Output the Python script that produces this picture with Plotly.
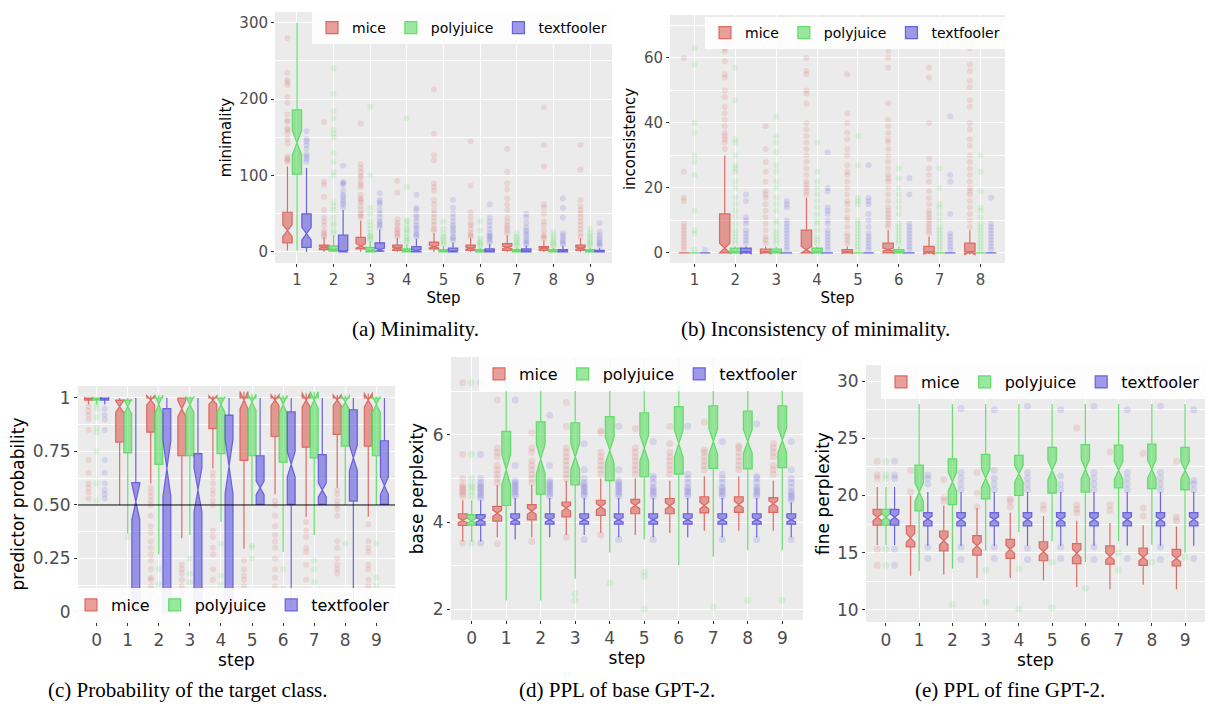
import plotly.graph_objects as go

FONT = "DejaVu Sans"
SERIF = "Liberation Serif"
NAMES = ["mice", "polyjuice", "textfooler"]
COLORS = [(219, 95, 87), (87, 219, 95), (95, 87, 219)]

# ---------------- (a) Minimality ----------------  (lo, q1, median, q3, hi)
A_STEPS = [1, 2, 3, 4, 5, 6, 7, 8, 9]
A_MICE = [(2, 12, 28, 52, 112), (0, 3, 6, 9, 19), (0, 4, 8, 19, 41), (0, 2, 5, 9, 18), (0, 4, 7, 13, 25),
          (0, 2, 5, 9, 18), (0, 2, 6, 11, 22), (0, 2, 5, 7, 15), (0, 2, 5, 9, 18)]
A_POLY = [(2, 102, 143, 186, 300), (0, 1, 3, 8, 22), (0, 0, 2, 6, 14), (0, 0, 1, 4, 10), (0, 0, 1, 3, 8),
          (0, 0, 1, 3, 6), (0, 0, 1, 3, 6), (0, 0, 1, 3, 6), (0, 0, 1, 3, 6)]
A_TEXT = [(0, 6, 24, 50, 110), (0, 0, 1, 22, 55), (0, 1, 3, 12, 29), (0, 0, 2, 7, 17), (0, 0, 1, 5, 12),
          (0, 0, 1, 4, 10), (0, 0, 1, 4, 8), (0, 0, 1, 3, 8), (0, 0, 1, 2, 5)]
A_MICE_OUT = [
    [118, 120, 122, 125, 142, 148, 155, 160, 162, 170, 172, 180, 195, 203, 218, 222, 225, 235, 280],
    [20, 22, 25, 28, 35, 40, 45, 55, 72, 88, 92, 170],
    [45, 48, 50, 55, 60, 65, 68, 70, 75, 85, 88, 92, 98, 100, 105, 110, 115, 168],
    [20, 22, 25, 28, 30, 35, 38, 43, 78, 93],
    [28, 30, 35, 40, 45, 50, 55, 62, 68, 80, 85, 90, 120, 127, 155, 213],
    [20, 22, 25, 30, 35, 38, 45, 52, 87, 145],
    [25, 28, 32, 35, 40, 45, 55, 62, 70, 82, 90, 105, 135],
    [18, 20, 22, 28, 35, 40, 50, 58, 62, 112, 140, 189],
    [20, 25, 30, 35, 40, 45, 50, 55, 60, 68, 108, 140]]
A_POLY_OUT = [
    [],
    [25, 28, 35, 38, 45, 55, 60, 65, 100, 105, 118, 130, 150, 155, 160, 175, 184, 207, 240, 279],
    [16, 18, 20, 22, 25, 30, 35, 40, 50, 58, 100, 190],
    [12, 15, 18, 20, 25, 28, 30, 35, 40, 42, 85, 175],
    [10, 12, 15, 18, 20, 25, 30, 40],
    [8, 10, 12, 15, 18, 28, 40],
    [8, 10, 12, 15, 18, 20, 25],
    [8, 10, 12, 15, 18, 22, 26],
    [8, 10, 12, 15, 18, 22, 25, 30]]
A_TEXT_OUT = [
    [118, 122, 125, 128, 135, 140, 145, 148, 158],
    [58, 62, 65, 68, 72, 75, 80, 88, 90, 92, 113],
    [32, 35, 38, 40, 45, 50, 55, 62, 65, 68, 77],
    [20, 22, 25, 28, 32, 35, 40, 45, 48, 55, 58, 75],
    [15, 18, 20, 25, 28, 32, 35, 40, 45, 50, 58, 68],
    [12, 15, 18, 20, 22, 25, 30, 35, 40, 45, 62],
    [10, 12, 15, 18, 22, 25, 28, 32, 38, 45, 50],
    [10, 12, 15, 18, 22, 25, 45, 58, 70],
    [8, 10, 12, 15, 18, 22, 26, 38]]
A_YTICKS = [0, 100, 200, 300]

# ---------------- (b) Inconsistency of minimality ----------------
B_STEPS = [1, 2, 3, 4, 5, 6, 7, 8]
B_MICE = [(0, 0, 0, 0, 0), (0, 0, 1.5, 12, 30), (0, 0, 0, 1.2, 2), (0, 0, 1, 7, 17), (0, 0, 0, 1, 2),
          (0, 0, 1, 3, 7), (0, 0, 0, 2, 5), (0, 0, 0, 3, 7)]
B_POLY = [(0, 0, 0, 0, 0), (0, 0, 0, 1.5, 2), (0, 0, 0, 1.2, 2), (0, 0, 0, 1.5, 2), (0, 0, 0, 0, 0),
          (0, 0, 0, 1, 2), (0, 0, 0, 0, 0), (0, 0, 0, 0, 0)]
B_TEXT = [(0, 0, 0, 0, 0), (0, 0, 0, 1.5, 2), (0, 0, 0, 0, 0), (0, 0, 0, 0, 0), (0, 0, 0, 0, 0),
          (0, 0, 0, 0, 0), (0, 0, 0, 0, 0), (0, 0, 0, 0, 0)]
B_MICE_OUT = [
    [1, 2, 3, 4, 5, 6, 7, 8, 9, 16, 17, 25, 60],
    [32, 34, 35, 36, 37, 39, 41, 43, 45, 48, 50, 54, 55, 59, 62, 63],
    [3, 4, 5, 7, 9, 11, 13, 15, 17, 18, 19, 22, 25, 28, 32, 39, 64],
    [18, 19, 20, 21, 22, 24, 26, 28, 30, 32, 34, 36, 38, 40, 46, 49, 50, 55, 56, 60, 65],
    [3, 4, 5, 6, 8, 10, 11, 13, 15, 16, 18, 20, 22, 24, 25, 27, 30, 32, 35, 37, 40, 43, 55],
    [8, 9, 10, 11, 12, 13, 14, 16, 18, 20, 22, 23, 24, 26, 28, 30, 32, 34, 35, 37, 39, 41, 46, 57, 60, 62],
    [6, 7, 8, 9, 10, 11, 12, 13, 15, 17, 19, 22, 24, 26, 29, 40, 54, 57],
    [8, 10, 12, 14, 16, 18, 19, 20, 22, 24, 26, 28, 30, 33, 35, 38, 40, 45, 47, 51, 53, 56, 58, 63]]
B_POLY_OUT = [
    [1, 6, 7, 13, 24, 28, 30, 37, 40, 58, 63],
    [3, 4, 5, 6, 7, 9, 11, 13, 15, 17, 20, 22, 25, 26, 27, 30, 34, 35, 47, 57],
    [3, 4, 5, 6, 7, 9, 10, 13, 15, 17, 20, 22, 25, 27, 31, 34, 36, 42],
    [3, 4, 5, 7, 9, 10, 12, 14, 16, 18, 20, 22, 25, 34],
    [1, 2, 3, 4, 5, 6, 7, 8, 9, 10, 15, 16, 17, 27, 36],
    [3, 4, 5, 6, 7, 8, 9, 12, 14, 16, 18, 20, 23, 26],
    [1, 2, 3, 4, 5, 6, 7, 8, 10, 12, 14, 15, 20, 26],
    [1, 2, 3, 4, 5, 6, 7, 8, 9, 11, 13, 14, 19, 25, 30]]
B_TEXT_OUT = [
    [1],
    [3, 4, 5, 6, 7, 9, 10, 11, 16, 18],
    [1, 2, 3, 4, 5, 6, 7, 8, 9, 10, 14, 15, 16],
    [1, 2, 3, 4, 5, 6, 7, 9, 10, 12, 13, 14, 19, 20, 31],
    [1, 2, 3, 4, 5, 6, 8, 10, 12, 15, 16, 17, 27],
    [1, 2, 3, 4, 5, 6, 7, 8, 9, 18, 23],
    [1, 2, 3, 4, 5, 6, 12, 22, 24, 42],
    [1, 2, 3, 4, 5, 6, 7, 8, 9, 17]]
B_YTICKS = [0, 20, 40, 60]

# ---------------- (c) Probability of the target class ----------------
C_STEPS = [0, 1, 2, 3, 4, 5, 6, 7, 8, 9]
C_MICE = [(0.97, 0.99, 1.0, 1.0, 1.0), (0.5, 0.794, 0.96, 0.99, 1.0), (0.6, 0.84, 0.99, 1.0, 1.0),
          (0.345, 0.73, 0.95, 1.0, 1.0), (0.67, 0.857, 0.99, 1.0, 1.0), (0.295, 0.708, 0.99, 1.0, 1.0),
          (0.55, 0.82, 0.99, 1.0, 1.0), (0.445, 0.77, 0.99, 1.0, 1.0), (0.58, 0.83, 0.99, 1.0, 1.0),
          (0.445, 0.775, 0.99, 1.0, 1.0)]
C_POLY = [(0.97, 0.99, 1.0, 1.0, 1.0), (0.366, 0.743, 0.96, 0.99, 1.0), (0.27, 0.69, 0.97, 1.0, 1.0),
          (0.36, 0.73, 0.97, 1.0, 1.0), (0.42, 0.74, 0.97, 1.0, 1.0), (0.5, 0.73, 0.98, 1.0, 1.0),
          (0.28, 0.70, 0.97, 1.0, 1.0), (0.36, 0.72, 0.99, 1.0, 1.0), (0.5, 0.775, 0.98, 1.0, 1.0),
          (0.5, 0.73, 0.97, 1.0, 1.0)]
C_TEXT = [(0.97, 0.99, 1.0, 1.0, 1.0), (0.0, 0.0, 0.515, 0.604, 1.0), (0.0, 0.0, 0.67, 0.95, 1.0),
          (0.0, 0.0, 0.57, 0.74, 1.0), (0.0, 0.0, 0.68, 0.92, 1.0), (0.5, 0.503, 0.58, 0.73, 1.0),
          (0.0, 0.503, 0.69, 0.935, 1.0), (0.5, 0.503, 0.57, 0.735, 1.0), (0.0, 0.518, 0.72, 0.945, 1.0),
          (0.5, 0.503, 0.59, 0.80, 1.0)]
C_MICE_OUT = [
    [0.53, 0.56, 0.58, 0.6, 0.65, 0.71, 0.85, 0.9, 0.92, 0.94, 0.96],
    [],
    [0.01, 0.03, 0.05, 0.08, 0.1, 0.12, 0.15, 0.16, 0.2, 0.24, 0.27, 0.3, 0.33, 0.37, 0.4, 0.45, 0.5, 0.52, 0.54, 0.56, 0.58],
    [0.03, 0.05, 0.08, 0.1, 0.12, 0.15, 0.18, 0.2, 0.22],
    [0.05, 0.1, 0.15, 0.2, 0.27, 0.3, 0.35, 0.38, 0.5, 0.52, 0.55, 0.57, 0.6, 0.63, 0.65],
    [0.03, 0.05, 0.08, 0.12, 0.15, 0.17, 0.2, 0.24],
    [0.02, 0.05, 0.1, 0.12, 0.16, 0.2, 0.25, 0.3, 0.33, 0.36, 0.4, 0.45, 0.5, 0.52],
    [0.03, 0.06, 0.1, 0.15, 0.22, 0.28, 0.3, 0.35, 0.38, 0.42],
    [0.03, 0.05, 0.08, 0.18, 0.2, 0.22, 0.25, 0.3, 0.33, 0.45, 0.48, 0.5, 0.52, 0.55, 0.57],
    [0.05, 0.06, 0.1, 0.12, 0.15, 0.2, 0.22, 0.28, 0.3, 0.33, 0.41]]
C_POLY_OUT = [
    [0.52, 0.6, 0.75, 0.84, 0.86, 0.91, 0.95, 0.97],
    [0.35],
    [0.02, 0.05, 0.06, 0.13, 0.2],
    [0.03, 0.06, 0.1, 0.14, 0.18, 0.25],
    [0.06, 0.1, 0.13, 0.17, 0.32],
    [0.05, 0.25, 0.3, 0.31],
    [0.05, 0.11, 0.2],
    [0.06, 0.14, 0.2, 0.24],
    [0.32],
    [0.07, 0.12, 0.16, 0.32]]
C_TEXT_OUT = [
    [0.53, 0.55, 0.57, 0.6, 0.65, 0.71, 0.85, 0.9, 0.92, 0.95],
    [], [], [], [], [], [], [0.04], [], [0.05]]
C_YTICKS = [0, 0.25, 0.5, 0.75, 1]
C_YTICKTEXT = ["0", "0.25", "0.50", "0.75", "1"]
C_THRESHOLD = 0.5

# ---------------- (d) PPL of base GPT-2 ----------------
D_STEPS = [0, 1, 2, 3, 4, 5, 6, 7, 8, 9]
D_MICE = [(3.55, 3.92, 4.04, 4.19, 4.5), (3.65, 4.02, 4.2, 4.36, 4.85), (3.65, 4.05, 4.25, 4.4, 4.85),
          (3.7, 4.12, 4.32, 4.46, 4.95), (3.75, 4.15, 4.35, 4.5, 5.0), (3.7, 4.19, 4.38, 4.52, 5.0),
          (3.75, 4.19, 4.37, 4.54, 4.95), (3.8, 4.21, 4.38, 4.58, 5.05), (3.8, 4.22, 4.4, 4.58, 5.05),
          (3.8, 4.22, 4.42, 4.56, 4.95)]
D_POLY = [(3.55, 3.93, 4.03, 4.17, 4.5), (2.2, 4.38, 5.2, 6.08, 7.5), (2.2, 4.64, 5.45, 6.3, 7.9),
          (2.7, 4.85, 5.5, 6.28, 7.9), (3.3, 4.95, 5.65, 6.42, 7.9), (3.6, 5.04, 5.7, 6.51, 7.9),
          (3.0, 5.1, 5.8, 6.65, 7.9), (3.2, 5.23, 5.85, 6.67, 7.9), (3.35, 5.22, 5.85, 6.55, 7.9),
          (3.35, 5.25, 5.88, 6.67, 7.9)]
D_TEXT = [(3.55, 3.93, 4.05, 4.17, 4.5), (3.6, 3.95, 4.05, 4.19, 4.55), (3.65, 3.95, 4.05, 4.19, 4.55),
          (3.7, 3.95, 4.05, 4.19, 4.55), (3.65, 3.95, 4.05, 4.19, 4.55), (3.65, 3.95, 4.05, 4.19, 4.55),
          (3.65, 3.95, 4.05, 4.19, 4.55), (3.65, 3.95, 4.05, 4.19, 4.55), (3.65, 3.95, 4.05, 4.19, 4.55),
          (3.65, 3.95, 4.05, 4.19, 4.45)]
D_MICE_OUT = [
    [3.52, 4.6, 4.65, 4.7, 4.75, 4.8, 4.85, 5.0, 5.55, 7.2],
    [3.5, 4.9, 5.0, 5.1, 5.2, 5.3, 5.5, 5.6, 5.7, 6.8],
    [3.55, 4.9, 5.0, 5.1, 5.2, 5.3, 5.4, 5.6, 5.7, 6.05],
    [3.65, 5.0, 5.1, 5.2, 5.3, 5.4, 5.5, 5.6, 5.7, 6.2, 6.75],
    [3.7, 5.1, 5.2, 5.3, 5.4, 5.5, 5.6, 6.05, 6.1],
    [5.1, 5.2, 5.3, 5.4, 5.5, 5.6, 5.7, 6.15],
    [5.1, 5.2, 5.3, 5.4, 5.5, 5.6, 5.8, 6.2],
    [5.2, 5.3, 5.4, 5.5, 5.6, 5.65, 6.3],
    [5.2, 5.3, 5.4, 5.5, 5.6, 5.7, 5.75],
    [5.1, 5.2, 5.3, 5.5, 5.6, 5.7, 5.8]]
D_POLY_OUT = [
    [3.52, 4.6, 4.7, 4.8, 4.85, 5.0, 5.55, 7.2],
    [], [], [2.35, 2.2], [2.6], [2.85, 2.75, 2.0], [], [2.05], [2.2], [2.2]]
D_TEXT_OUT = [
    [3.52, 4.55, 4.6, 4.65, 4.7, 4.75, 4.8, 4.85, 4.9, 5.0, 5.55, 7.2],
    [4.6, 4.65, 4.7, 4.75, 4.8, 4.85, 4.9, 4.95, 5.3, 6.8],
    [4.6, 4.65, 4.7, 4.75, 4.8, 4.85, 4.9, 4.95, 5.3, 6.45],
    [3.6, 4.6, 4.65, 4.7, 4.75, 4.8, 4.85, 4.9, 5.0, 5.2, 5.8],
    [3.6, 4.6, 4.65, 4.7, 4.75, 4.8, 4.85, 4.9, 4.95, 5.2, 6.2],
    [3.6, 4.6, 4.65, 4.7, 4.75, 4.8, 4.9, 5.0, 5.05, 5.85],
    [4.6, 4.65, 4.7, 4.75, 4.8, 4.9, 5.0, 5.1, 6.2],
    [3.6, 4.6, 4.65, 4.7, 4.75, 4.8, 4.9, 5.0, 5.1, 5.85],
    [3.6, 4.6, 4.65, 4.7, 4.75, 4.8, 4.9, 5.0, 5.05, 6.25],
    [3.6, 4.5, 4.55, 4.6, 4.65, 4.7, 4.8, 4.9, 5.0, 5.2, 5.85]]
D_YTICKS = [2, 4, 6]

# ---------------- (e) PPL of fine GPT-2 ----------------
E_STEPS = [0, 1, 2, 3, 4, 5, 6, 7, 8, 9]
E_MICE = [(15.67, 17.41, 18.1, 18.78, 20.75), (13.0, 15.52, 16.3, 17.35, 20.0), (13.1, 15.17, 16.05, 16.9, 19.1),
          (12.8, 14.8, 15.6, 16.5, 18.9), (12.8, 14.5, 15.3, 16.16, 18.5), (12.6, 14.3, 15.1, 15.96, 18.2),
          (12.0, 14.05, 14.95, 15.8, 17.8), (11.8, 14.0, 14.7, 15.6, 17.6), (12.2, 13.9, 14.6, 15.4, 17.4),
          (11.8, 13.85, 14.5, 15.3, 17.3)]
E_POLY = [(15.67, 17.41, 18.1, 18.78, 20.75), (13.4, 18.66, 20.3, 22.65, 28.0), (13.6, 19.2, 21.2, 23.2, 28.0),
          (15.2, 19.7, 21.5, 23.6, 28.0), (16.8, 20.0, 21.9, 23.5, 28.0), (16.0, 20.2, 22.2, 24.2, 28.0),
          (14.2, 20.3, 22.3, 24.45, 28.0), (16.0, 20.67, 22.2, 24.4, 28.0), (15.7, 20.6, 22.3, 24.5, 28.0),
          (15.0, 20.5, 22.2, 24.2, 28.0)]
E_TEXT = [(15.67, 17.41, 18.1, 18.78, 20.75), (15.6, 17.35, 17.95, 18.5, 20.3), (15.6, 17.35, 17.9, 18.5, 20.3),
          (15.6, 17.35, 17.9, 18.5, 20.3), (15.6, 17.35, 17.9, 18.5, 20.3), (15.6, 17.35, 17.9, 18.5, 20.3),
          (15.6, 17.35, 17.9, 18.5, 20.3), (15.6, 17.35, 17.9, 18.5, 20.3), (15.6, 17.35, 17.9, 18.5, 20.3),
          (15.6, 17.35, 17.9, 18.5, 20.3)]
E_MICE_OUT = [[13.9, 15.3, 21.5, 21.8, 23.0], [20.3, 22.2], [19.5, 19.8, 21.4], [19.0, 20.2, 22.0],
              [19.0, 19.5, 19.7], [18.8, 19.2], [18.5, 18.8, 19.2, 25.9], [18.7, 19.2, 23.8],
              [18.2, 18.9, 23.7], [17.8, 18.1, 23.0]]
E_POLY_OUT = [[13.9, 15.3, 21.5, 21.8, 23.0], [], [10.5], [13.5, 10.7], [13.6, 10.1], [14.2, 10.2],
              [11.9], [13.5, 15.0], [14.2], [14.6]]
E_TEXT_OUT = [[13.9, 15.3, 21.5, 21.8, 23.0], [14.5, 15.5, 21.0, 21.5, 21.8],
              [14.4, 15.5, 20.5, 21.0, 21.5, 22.0, 27.6], [14.5, 15.5, 20.5, 21.0, 21.5, 22.2, 27.5],
              [14.4, 15.4, 20.5, 21.0, 21.5, 22.0, 27.8], [14.5, 15.5, 20.5, 21.0, 21.7, 27.5],
              [14.4, 15.5, 20.5, 21.0, 21.5, 22.0, 27.8], [14.5, 20.5, 21.0, 21.5, 22.0, 27.5],
              [14.4, 15.5, 20.5, 21.0, 21.5, 22.0, 27.8], [14.5, 20.5, 21.0, 21.3, 27.5]]
E_YTICKS = [10, 15, 20, 25, 30]

CAPTIONS = ["(a) Minimality.", "(b) Inconsistency of minimality.", "(c) Probability of the target class.",
            "(d) PPL of base GPT-2.", "(e) PPL of fine GPT-2."]

W, H = 1209, 706


def rgba(c, a):
    return "rgba(%d,%d,%d,%g)" % (c[0], c[1], c[2], a)


fig = go.Figure()


def add_panel(idx, steps, series, n, msize, clip):
    xa = "x" if idx == 1 else "x%d" % idx
    ya = "y" if idx == 1 else "y%d" % idx
    leg = "legend" if idx == 1 else "legend%d" % idx
    for name, color, stats, outl in series:
        lo, q1, med, q3, hi = (list(v) for v in zip(*stats))
        notch = [1.58 * (b - a) / n ** 0.5 for a, b in zip(q1, q3)]
        if clip:
            notch = [min(s, max(m - a, 0.0) if m - a > 0 else b - m, b - m if b - m > 0 else m - a)
                     for s, a, m, b in zip(notch, q1, med, q3)]
        ox = [s for s, vals in zip(steps, outl) for _ in vals]
        oy = [v for vals in outl for v in vals]
        if oy:
            fig.add_trace(go.Box(
                x=ox, y=oy, xaxis=xa, yaxis=ya, offsetgroup=name, name=name,
                boxpoints="all", jitter=0, pointpos=0,
                fillcolor="rgba(0,0,0,0)", line=dict(width=0, color="rgba(0,0,0,0)"),
                marker=dict(color=rgba(color, 0.16), size=msize, line=dict(width=0)),
                showlegend=False, hoverinfo="skip"))
        fig.add_trace(go.Box(
            x=steps, q1=q1, median=med, q3=q3, lowerfence=lo, upperfence=hi,
            notchspan=notch, notched=True, notchwidth=0.5, whiskerwidth=0,
            boxpoints=False, name=name, legend=leg, xaxis=xa, yaxis=ya, offsetgroup=name,
            fillcolor=rgba(color, 0.6), line=dict(color=rgba(color, 0.9), width=1.2),
            hoverinfo="skip"))


add_panel(1, A_STEPS, list(zip(NAMES, COLORS, [A_MICE, A_POLY, A_TEXT], [A_MICE_OUT, A_POLY_OUT, A_TEXT_OUT])), 70, 6, True)
add_panel(2, B_STEPS, list(zip(NAMES, COLORS, [B_MICE, B_POLY, B_TEXT], [B_MICE_OUT, B_POLY_OUT, B_TEXT_OUT])), 90, 6, True)
add_panel(3, C_STEPS, list(zip(NAMES, COLORS, [C_MICE, C_POLY, C_TEXT], [C_MICE_OUT, C_POLY_OUT, C_TEXT_OUT])), 130, 6, False)
add_panel(4, D_STEPS, list(zip(NAMES, COLORS, [D_MICE, D_POLY, D_TEXT], [D_MICE_OUT, D_POLY_OUT, D_TEXT_OUT])), 60, 7, True)
add_panel(5, E_STEPS, list(zip(NAMES, COLORS, [E_MICE, E_POLY, E_TEXT], [E_MICE_OUT, E_POLY_OUT, E_TEXT_OUT])), 60, 7, True)


def xaxis(idx, dom_px, steps, rng, title, size, standoff):
    return dict(domain=[dom_px[0] / W, dom_px[1] / W], range=rng, tickvals=steps,
                anchor="y" if idx == 1 else "y%d" % idx,
                ticktext=[str(s) for s in steps], showgrid=True, gridcolor="white", gridwidth=1.1,
                zeroline=False, ticks="outside", ticklen=3, tickcolor="#333333", showline=False,
                tickfont=dict(family=FONT, size=size, color="#4D4D4D"),
                title=dict(text=title, font=dict(family=FONT, size=size, color="black"), standoff=standoff))


def yaxis(idx, dom, rng, tickvals, ticktext, minor, title, size, standoff):
    return dict(domain=[1 - dom[1] / H, 1 - dom[0] / H], range=rng, tickvals=tickvals, ticktext=ticktext,
                anchor="x" if idx == 1 else "x%d" % idx,
                showgrid=True, gridcolor="white", gridwidth=1.1, zeroline=False,
                ticks="outside", ticklen=3, tickcolor="#333333", showline=False,
                minor=dict(tickvals=minor, showgrid=True, gridcolor="white", gridwidth=0.5, ticks=""),
                tickfont=dict(family=FONT, size=size, color="#4D4D4D"),
                title=dict(text=title, font=dict(family=FONT, size=size, color="black"), standoff=standoff))


def mids(t):
    step = t[1] - t[0]
    return [v + step / 2 for v in [t[0] - step] + t]


def legend(x_px, y_px, anchor_y, size):
    return dict(orientation="h", x=x_px / W, xanchor="right", y=1 - y_px / H, yanchor=anchor_y,
                bgcolor="rgba(255,255,255,0.9)", borderwidth=0, itemwidth=30,
                font=dict(family=FONT, size=size, color="black"), tracegroupgap=0,
                itemclick=False, itemdoubleclick=False)


fig.update_layout(
    width=W, height=H, margin=dict(l=0, r=0, t=0, b=0),
    paper_bgcolor="white", plot_bgcolor="#EBEBEB",
    boxmode="group", boxgap=0.22, boxgroupgap=0.02,
    xaxis=xaxis(1, (275, 612), A_STEPS, [0.4, 9.6], "Step", 15, 4),
    yaxis=yaxis(1, (12, 263), [-14.4, 314], A_YTICKS, [str(v) for v in A_YTICKS], mids(A_YTICKS), "minimality", 15, 4),
    xaxis2=xaxis(2, (670, 1005), B_STEPS, [0.4, 8.6], "Step", 15, 4),
    yaxis2=yaxis(2, (15, 263), [-3.1, 73.2], B_YTICKS, [str(v) for v in B_YTICKS], mids(B_YTICKS), "inconsistency", 15, 4),
    xaxis3=xaxis(3, (78, 395), C_STEPS, [-0.6, 9.6], "step", 17, 2),
    yaxis3=yaxis(3, (386, 622), [-0.047, 1.056], C_YTICKS, C_YTICKTEXT, mids(C_YTICKS), "predictor probability", 17, 3),
    xaxis4=xaxis(4, (451, 803), D_STEPS, [-0.6, 9.6], "step", 17, 2),
    yaxis4=yaxis(4, (357, 620), [1.75, 7.79], D_YTICKS, [str(v) for v in D_YTICKS], mids(D_YTICKS), "base perplexity", 17, 4),
    xaxis5=xaxis(5, (866, 1205), E_STEPS, [-0.6, 9.6], "step", 17, 2),
    yaxis5=yaxis(5, (365, 622), [8.95, 31.4], E_YTICKS, [str(v) for v in E_YTICKS], mids(E_YTICKS), "fine perplexity", 17, 3),
    legend=legend(612, 12, "top", 14),
    legend2=legend(1005, 17, "top", 14),
    legend3=legend(395, 622, "bottom", 16),
    legend4=legend(803, 357, "top", 16),
    legend5=legend(1205, 365, "top", 16),
    showlegend=True,
)

fig.add_shape(type="line", xref="x3 domain", x0=0, x1=1, yref="y3", y0=C_THRESHOLD, y1=C_THRESHOLD,
              line=dict(color="black", width=1))

CAP_POS = [(415, 329), (815, 329), (188, 690), (617, 690), (1010, 690)]
for text, (cx, cy) in zip(CAPTIONS, CAP_POS):
    fig.add_annotation(text=text, xref="paper", yref="paper", x=cx / W, y=1 - cy / H,
                       xanchor="center", yanchor="middle", showarrow=False,
                       font=dict(family=SERIF, size=21, color="black"))

fig.write_html("out.html", config={"displayModeBar": False},
               post_script="document.body.style.margin='0px';document.body.style.overflow='hidden';")
